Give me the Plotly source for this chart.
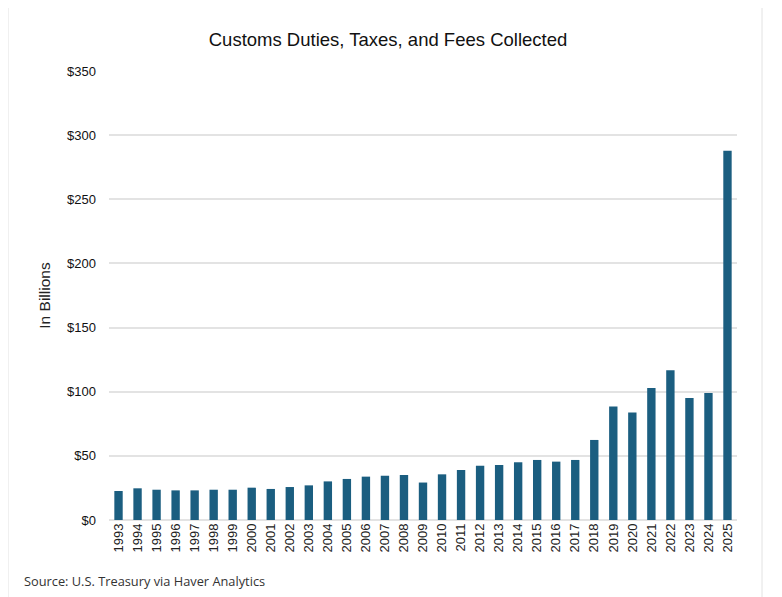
import plotly.graph_objects as go

years = [str(y) for y in range(1993, 2026)]
collected = [
    22.6, 24.7, 23.6, 23.1, 23.1, 23.6, 23.6, 25.2, 24.2, 25.7,
    27.0, 30.1, 32.0, 33.8, 34.5, 35.1, 29.2, 35.6, 39.0, 42.3,
    42.9, 45.0, 46.8, 45.5, 46.8, 62.4, 88.4, 83.7, 102.9, 116.7,
    95.1, 99.0, 287.8,
]
tick_vals = [0, 50, 100, 150, 200, 250, 300, 350]
tick_text = ["$0", "$50", "$100", "$150", "$200", "$250", "$300", "$350"]

# page body adds an 8px margin, so the figure is drawn 8px smaller and shifted
OFF = 8
W, H = 782 - OFF, 597 - OFF
L, R, T, B = 109 - OFF, 45, 71 - OFF, 77
PW, PH = W - L - R, H - T - B

fig = go.Figure(
    go.Bar(x=years, y=collected, marker={"color": "#1b5e80", "line": {"width": 0}}, width=0.44)
)

fig.update_layout(
    width=W, height=H,
    margin={"l": L, "r": R, "t": T, "b": B},
    plot_bgcolor="white", paper_bgcolor="white",
    showlegend=False,
    font={"family": "Liberation Sans, Arial, sans-serif", "color": "#222"},
    title={
        "text": "Customs Duties, Taxes, and Fees Collected",
        "x": (388 - OFF - L) / PW, "xanchor": "center", "xref": "paper",
        "y": 1 - (40 - OFF) / H, "yanchor": "middle",
        "font": {"size": 18.5, "color": "#111"},
    },
    xaxis={
        "type": "category",
        "tickangle": -90,
        "tickfont": {"size": 13, "color": "#222"},
        "showgrid": False,
        "showline": False,
        "ticks": "",
    },
    yaxis={
        "range": [0, 350],
        "tickvals": tick_vals,
        "ticktext": tick_text,
        "tickfont": {"size": 13, "color": "#111"},
        "showgrid": True,
        "gridcolor": "#e3e3e3",
        "gridwidth": 1.5,
        "zeroline": True,
        "zerolinecolor": "#e3e3e3",
        "zerolinewidth": 1.5,
        "ticklen": 0,
        "ticklabelstandoff": 12,
        "title": {"text": "In Billions", "font": {"size": 15.5, "color": "#222"}, "standoff": 12},
    },
    shapes=[{
        "type": "rect", "xref": "paper", "yref": "paper",
        "x0": (8 - OFF - L) / PW, "x1": (762 - OFF - L) / PW,
        "y0": -(B + 20) / PH, "y1": 1 + (T - (7 - OFF)) / PH,
        "line": {"color": "#e2e2e2", "width": 1},
    }],
    annotations=[{
        "text": "Source: U.S. Treasury via Haver Analytics",
        "xref": "paper", "yref": "paper",
        "x": (22 - OFF - L) / PW, "xanchor": "left",
        "y": -(581 - OFF - (H - B)) / PH, "yanchor": "middle",
        "showarrow": False,
        "font": {"family": "Open Sans, sans-serif", "size": 12.8, "color": "#333"},
    }],
)

fig.write_html("out.html")
